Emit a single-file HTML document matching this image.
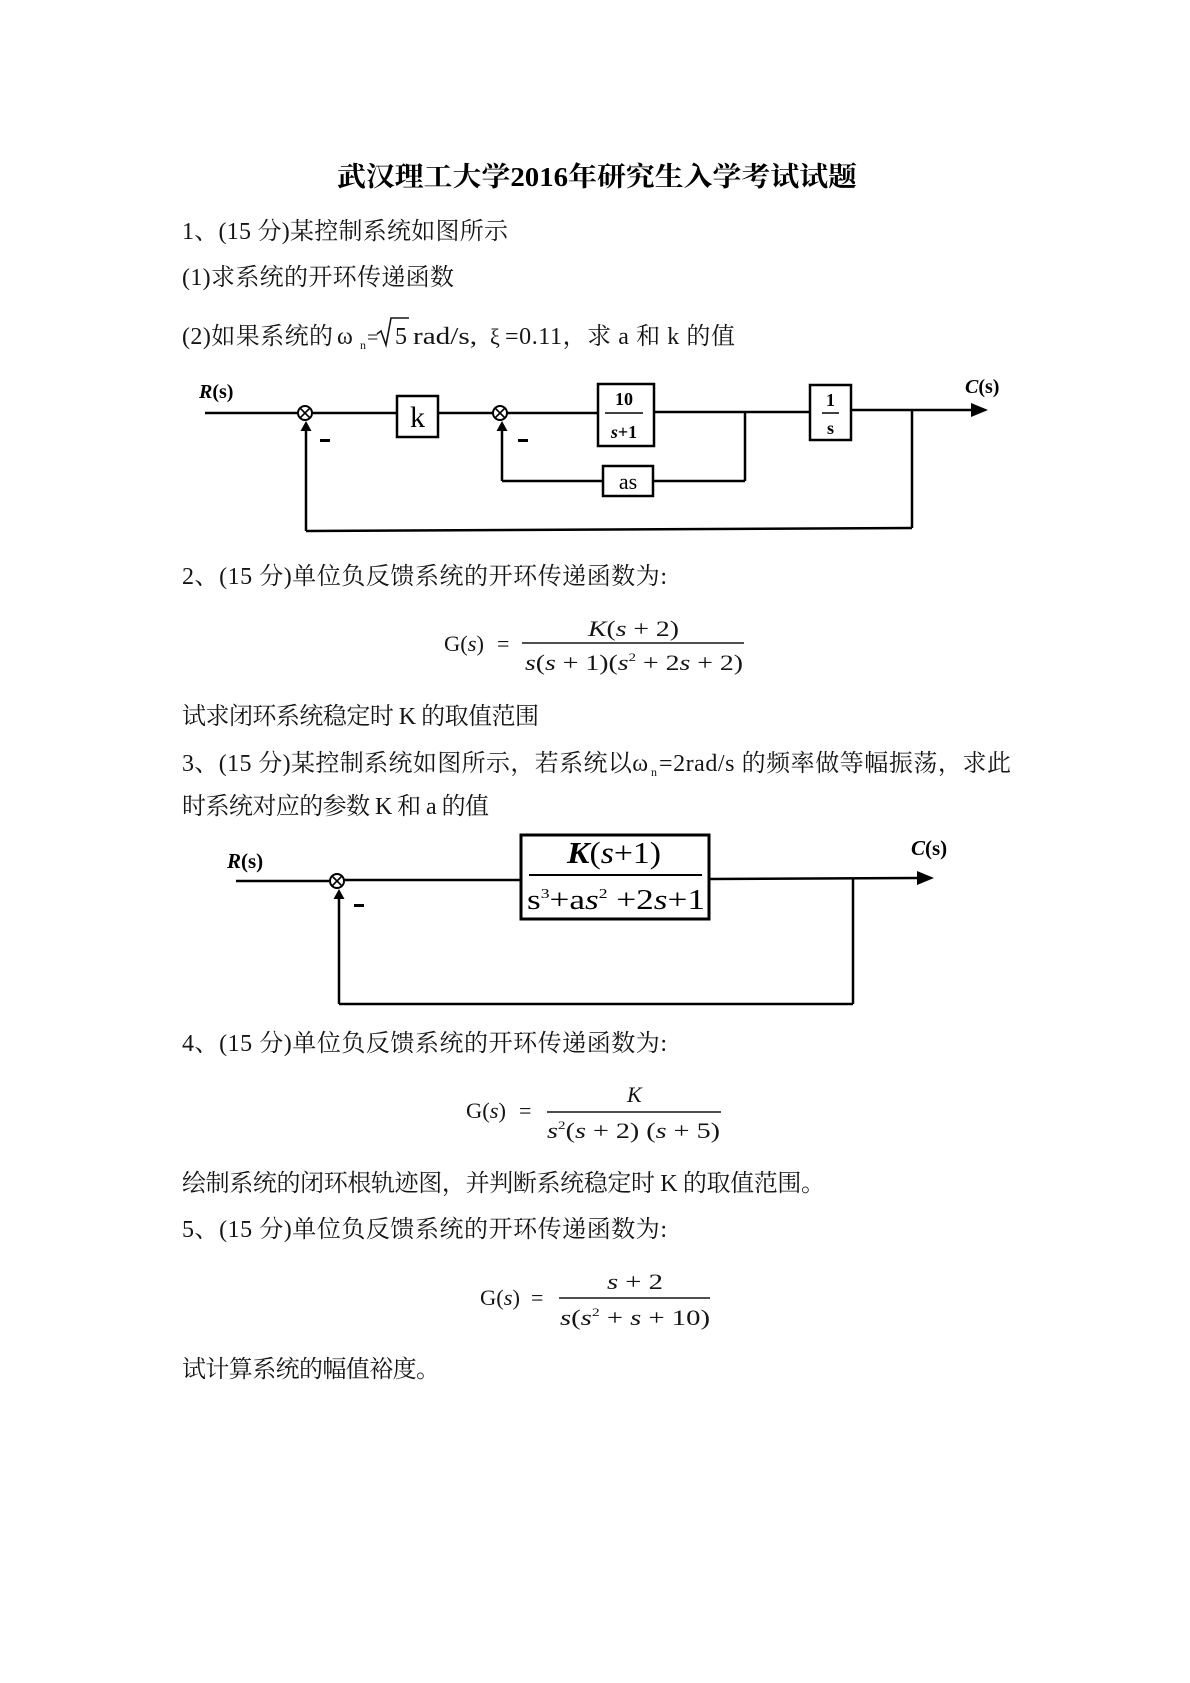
<!DOCTYPE html>
<html><head><meta charset="utf-8"><style>
html,body{margin:0;padding:0;background:#fff;}
svg{display:block;}
.t{font-family:"Liberation Serif","Noto Serif CJK SC",serif;font-size:24px;fill:#151515;}
.m{font-family:"Liberation Serif","Noto Serif CJK SC",serif;font-size:22px;fill:#151515;}
.d{font-family:"Liberation Serif","Noto Serif CJK SC",serif;fill:#000;}
.i{font-style:italic;}
</style></head><body>
<svg width="1190" height="1683" viewBox="0 0 1190 1683" xmlns="http://www.w3.org/2000/svg">
<rect width="1190" height="1683" fill="#fff"/>

<!-- Title -->
<text x="337" y="186" font-size="27" font-weight="bold" textLength="520" lengthAdjust="spacingAndGlyphs" font-family="'Liberation Serif','Noto Serif CJK SC',serif" fill="#000">武汉理工大学2016年研究生入学考试试题</text>

<!-- Q1 text -->
<text class="t" x="182" y="239" textLength="326" lengthAdjust="spacing">1、(15 分)某控制系统如图所示</text>
<text class="t" x="182" y="285" textLength="272" lengthAdjust="spacing">(1)求系统的开环传递函数</text>
<text class="t" x="182" y="344" textLength="151" lengthAdjust="spacing">(2)如果系统的</text>
<text class="t" x="337" y="344" font-size="22">ω</text>
<text class="t" x="360" y="349" style="font-size:12px">n</text>
<text class="t" x="367" y="344" style="font-size:20px">=</text>
<path d="M377,334 L381,331 L386,345 L391,318 L409,318" fill="none" stroke="#151515" stroke-width="1.6"/>
<text class="t" x="395" y="344">5</text>
<text class="t" x="413" y="344" textLength="64" lengthAdjust="spacingAndGlyphs">rad/s,</text>
<text class="t" x="490" y="344" style="font-size:22px">ξ</text>
<text class="t" x="505" y="344" textLength="230" lengthAdjust="spacing">=0.11，求 a 和 k 的值</text>

<!-- Diagram 1 -->
<g stroke="#000" stroke-width="2.5" fill="none">
  <line x1="205" y1="413" x2="298" y2="413"/>
  <line x1="312" y1="413" x2="397" y2="413"/>
  <line x1="438" y1="413" x2="493" y2="413"/>
  <line x1="507" y1="413" x2="598" y2="413"/>
  <line x1="654" y1="412" x2="810" y2="412"/>
  <line x1="745" y1="412" x2="745" y2="481"/>
  <line x1="745" y1="481" x2="653" y2="481"/>
  <line x1="603" y1="481" x2="502" y2="481"/>
  <line x1="502" y1="481" x2="502" y2="428"/>
  <line x1="851" y1="410" x2="974" y2="410"/>
  <line x1="912" y1="410" x2="912" y2="528"/>
  <line x1="912" y1="528" x2="306" y2="531"/>
  <line x1="306" y1="531" x2="306" y2="428"/>
  <rect x="397" y="396" width="41" height="41"/>
  <rect x="598" y="384" width="56" height="62"/>
  <rect x="603" y="466" width="50" height="30"/>
  <rect x="810" y="385" width="41" height="55"/>
</g>
<g stroke="#000" stroke-width="2" fill="#fff">
  <circle cx="305" cy="413" r="7"/>
  <circle cx="500" cy="413" r="7"/>
</g>
<g stroke="#000" stroke-width="1.6">
  <line x1="300" y1="408" x2="310" y2="418"/><line x1="310" y1="408" x2="300" y2="418"/>
  <line x1="495" y1="408" x2="505" y2="418"/><line x1="505" y1="408" x2="495" y2="418"/>
  <line x1="605" y1="413" x2="643" y2="413"/>
  <line x1="822" y1="413" x2="839" y2="413"/>
</g>
<g fill="#000">
  <polygon points="306,421 300.5,431 311.5,431"/>
  <polygon points="502,421 496.5,431 507.5,431"/>
  <polygon points="988,410 971,403 971,417"/>
  <rect x="320" y="439" width="10" height="3"/>
  <rect x="518" y="439" width="10" height="3"/>
</g>
<text class="d" x="199" y="398" font-size="20" font-weight="bold"><tspan class="i">R</tspan>(s)</text>
<text class="d" x="965" y="393" font-size="20" font-weight="bold"><tspan class="i">C</tspan>(s)</text>
<text class="d" x="417.5" y="427" font-size="30" text-anchor="middle">k</text>
<text class="d" x="624" y="405" font-size="18" font-weight="bold" text-anchor="middle">10</text>
<text class="d" x="624" y="438" font-size="18" font-weight="bold" text-anchor="middle"><tspan class="i">s</tspan>+1</text>
<text class="d" x="830.5" y="406" font-size="18" font-weight="bold" text-anchor="middle">1</text>
<text class="d" x="830.5" y="434" font-size="18" font-weight="bold" text-anchor="middle">s</text>
<text class="d" x="628" y="489" font-size="22" text-anchor="middle">as</text>

<!-- Q2 -->
<text class="t" x="182" y="584" textLength="485" lengthAdjust="spacing">2、(15 分)单位负反馈系统的开环传递函数为:</text>
<text class="m" x="444" y="651" textLength="40" lengthAdjust="spacingAndGlyphs">G(<tspan class="i">s</tspan>)</text>
<text class="m" x="497" y="651">=</text>
<line x1="522" y1="643" x2="744" y2="643" stroke="#151515" stroke-width="1.5"/>
<text class="m" x="588" y="636" textLength="91" lengthAdjust="spacingAndGlyphs"><tspan class="i">K</tspan>(<tspan class="i">s</tspan> + 2)</text>
<text class="m" x="525" y="670" textLength="218" lengthAdjust="spacingAndGlyphs"><tspan class="i">s</tspan>(<tspan class="i">s</tspan> + 1)(<tspan class="i">s</tspan><tspan dy="-9" font-size="12">2</tspan><tspan dy="9"> + 2</tspan><tspan class="i">s</tspan> + 2)</text>
<text class="t" x="182" y="724" textLength="357" lengthAdjust="spacing">试求闭环系统稳定时 K 的取值范围</text>

<!-- Q3 -->
<text class="t" x="182" y="771" textLength="466" lengthAdjust="spacing">3、(15 分)某控制系统如图所示，若系统以ω</text>
<text class="t" x="651" y="776" style="font-size:12px">n</text>
<text class="t" x="659" y="771" textLength="352" lengthAdjust="spacing">=2rad/s 的频率做等幅振荡，求此</text>
<text class="t" x="182" y="814" textLength="307" lengthAdjust="spacing">时系统对应的参数 K 和 a 的值</text>

<!-- Diagram 3 -->
<g stroke="#000" stroke-width="2.5" fill="none">
  <line x1="236" y1="881" x2="330" y2="881"/>
  <line x1="344" y1="880" x2="521" y2="880"/>
  <line x1="709" y1="879" x2="919" y2="878"/>
  <line x1="853" y1="879" x2="853" y2="1004"/>
  <line x1="853" y1="1004" x2="339" y2="1004"/>
  <line x1="339" y1="1004" x2="339" y2="896"/>
  <rect x="521" y="835" width="188" height="84" stroke-width="3"/>
</g>
<circle cx="337" cy="881" r="7" stroke="#000" stroke-width="2" fill="#fff"/>
<g stroke="#000" stroke-width="1.6">
  <line x1="332" y1="876" x2="342" y2="886"/><line x1="342" y1="876" x2="332" y2="886"/>
  <line x1="529" y1="875" x2="702" y2="875" stroke-width="2"/>
</g>
<g fill="#000">
  <polygon points="339,889 333.5,899 344.5,899"/>
  <polygon points="934,878 917,871 917,885"/>
  <rect x="354" y="904" width="10" height="3"/>
</g>
<text class="d" x="227" y="868" font-size="21" font-weight="bold"><tspan class="i">R</tspan>(s)</text>
<text class="d" x="911" y="855" font-size="21" font-weight="bold"><tspan class="i">C</tspan>(s)</text>
<text class="d" x="567" y="863" font-size="31" textLength="94" lengthAdjust="spacingAndGlyphs"><tspan class="i" font-weight="bold">K</tspan>(<tspan class="i">s</tspan>+1)</text>
<text class="d" x="527" y="909" font-size="28" textLength="178" lengthAdjust="spacingAndGlyphs">s<tspan dy="-11" font-size="14">3</tspan><tspan dy="11">+a</tspan><tspan class="i">s</tspan><tspan dy="-11" font-size="14">2</tspan><tspan dy="11"> +2</tspan><tspan class="i">s</tspan>+1</text>

<!-- Q4 -->
<text class="t" x="182" y="1051" textLength="485" lengthAdjust="spacing">4、(15 分)单位负反馈系统的开环传递函数为:</text>
<text class="m" x="466" y="1118" textLength="40" lengthAdjust="spacingAndGlyphs">G(<tspan class="i">s</tspan>)</text>
<text class="m" x="519" y="1118">=</text>
<line x1="547" y1="1112" x2="721" y2="1112" stroke="#151515" stroke-width="1.5"/>
<text class="m i" x="627" y="1102">K</text>
<text class="m" x="547" y="1138" textLength="173" lengthAdjust="spacingAndGlyphs"><tspan class="i">s</tspan><tspan dy="-9" font-size="12">2</tspan><tspan dy="9">(</tspan><tspan class="i">s</tspan> + 2) (<tspan class="i">s</tspan> + 5)</text>
<text class="t" x="182" y="1191" textLength="643" lengthAdjust="spacing">绘制系统的闭环根轨迹图，并判断系统稳定时 K 的取值范围。</text>

<!-- Q5 -->
<text class="t" x="182" y="1237" textLength="485" lengthAdjust="spacing">5、(15 分)单位负反馈系统的开环传递函数为:</text>
<text class="m" x="480" y="1305" textLength="40" lengthAdjust="spacingAndGlyphs">G(<tspan class="i">s</tspan>)</text>
<text class="m" x="531" y="1305">=</text>
<line x1="559" y1="1298" x2="710" y2="1298" stroke="#151515" stroke-width="1.5"/>
<text class="m" x="607" y="1289" textLength="56" lengthAdjust="spacingAndGlyphs"><tspan class="i">s</tspan> + 2</text>
<text class="m" x="560" y="1325" textLength="150" lengthAdjust="spacingAndGlyphs"><tspan class="i">s</tspan>(<tspan class="i">s</tspan><tspan dy="-9" font-size="12">2</tspan><tspan dy="9"> + </tspan><tspan class="i">s</tspan> + 10)</text>
<text class="t" x="182" y="1377" textLength="258" lengthAdjust="spacing">试计算系统的幅值裕度。</text>
</svg>
</body></html>
